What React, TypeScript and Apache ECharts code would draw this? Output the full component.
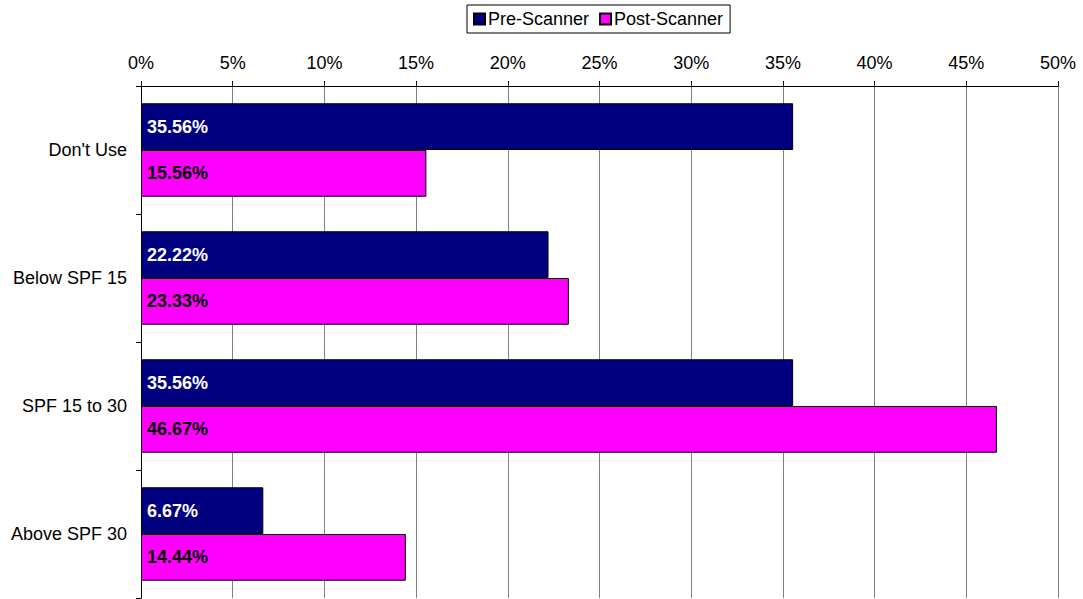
import React, { useEffect, useRef } from "react";
import * as echarts from "echarts";

const categories = ["Don't Use", "Below SPF 15", "SPF 15 to 30", "Above SPF 30"];
const preScanner = [35.56, 22.22, 35.56, 6.67];
const postScanner = [15.56, 23.33, 46.67, 14.44];
const xTicks = [0, 5, 10, 15, 20, 25, 30, 35, 40, 45, 50];

const FONT = "'Liberation Sans', Arial, sans-serif";

export default function App() {
  const ref = useRef<HTMLDivElement>(null);

  useEffect(() => {
    if (!ref.current) return;
    const chart = echarts.init(ref.current, null, { renderer: "svg" });
    chart.setOption({
      animation: false,
      textStyle: { fontFamily: FONT },
      legend: {
        data: ["Pre-Scanner", "Post-Scanner"],
        left: 467,
        top: 5,
        orient: "horizontal",
        borderColor: "#000",
        borderWidth: 1,
        padding: [5, 7, 5, 6],
        itemWidth: 11,
        itemHeight: 11,
        itemGap: 10,
        icon: "rect",
        textStyle: { fontFamily: FONT, fontSize: 18, color: "#000", padding: [0, 0, 0, -2] },
      },
      grid: { left: 141, right: 25, top: 86, bottom: 1, containLabel: false },
      xAxis: {
        type: "value",
        position: "top",
        min: xTicks[0],
        max: xTicks[xTicks.length - 1],
        interval: 5,
        axisLine: { show: true, lineStyle: { color: "#000", width: 1 } },
        axisTick: { show: true, length: 5, lineStyle: { color: "#000" } },
        axisLabel: {
          formatter: (v: number) => `${v}%`,
          fontFamily: FONT,
          fontSize: 18,
          color: "#000",
          margin: 14,
        },
        splitLine: { show: true, lineStyle: { color: "#808080", width: 1 } },
      },
      yAxis: {
        type: "category",
        data: categories,
        inverse: true,
        axisLine: { show: true, lineStyle: { color: "#000", width: 1 } },
        axisTick: { show: true, length: 5, alignWithLabel: false, lineStyle: { color: "#000" } },
        axisLabel: { fontFamily: FONT, fontSize: 18, color: "#000", margin: 14 },
      },
      series: [
        {
          name: "Pre-Scanner",
          type: "bar",
          data: preScanner,
          barGap: "0%",
          barCategoryGap: "27%",
          itemStyle: { color: "#000080", borderColor: "#000", borderWidth: 1 },
          label: {
            show: true,
            position: "insideLeft",
            distance: 6,
            formatter: (p: any) => `${p.value.toFixed(2)}%`,
            fontFamily: FONT,
            fontSize: 18,
            fontWeight: "bold",
            color: "#fff",
          },
        },
        {
          name: "Post-Scanner",
          type: "bar",
          data: postScanner,
          barGap: "0%",
          barCategoryGap: "27%",
          itemStyle: { color: "#ff00ff", borderColor: "#000", borderWidth: 1 },
          label: {
            show: true,
            position: "insideLeft",
            distance: 6,
            formatter: (p: any) => `${p.value.toFixed(2)}%`,
            fontFamily: FONT,
            fontSize: 18,
            fontWeight: "bold",
            color: "#000",
          },
        },
      ],
    });
    return () => chart.dispose();
  }, []);

  return (
    <div
      ref={ref}
      style={{ position: "fixed", left: 0, top: 0, width: 1083, height: 599, background: "#fff" }}
    />
  );
}
